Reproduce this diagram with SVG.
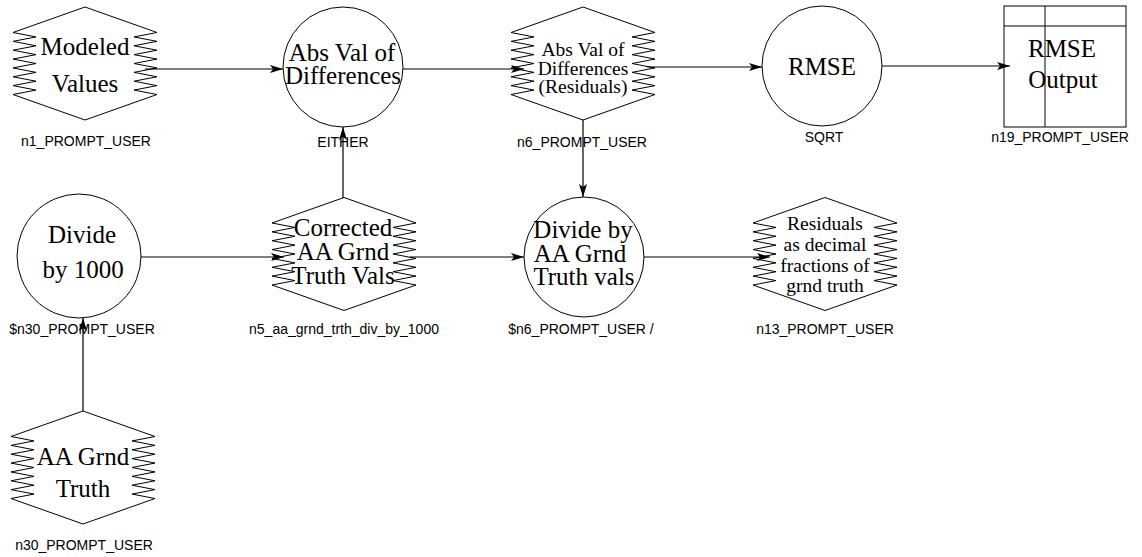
<svg xmlns="http://www.w3.org/2000/svg" xmlns:xlink="http://www.w3.org/1999/xlink" width="1142" height="557" viewBox="0 0 1142 557">
<style>
.shape{fill:#fff;stroke:#000;stroke-width:1}
.conn{fill:none;stroke:#000;stroke-width:1.2;marker-end:url(#arr)}
.t{font-family:"Liberation Serif","Times New Roman",serif;font-size:25px;text-anchor:middle;fill:#000}
.ts{font-family:"Liberation Serif","Times New Roman",serif;font-size:19.5px;text-anchor:middle;fill:#000}
.lbl{font-family:"Liberation Sans",Arial,sans-serif;font-size:14px;text-anchor:middle;fill:#000}
</style>
<defs>
<marker id="arr" markerUnits="userSpaceOnUse" markerWidth="14" markerHeight="8" refX="13" refY="4" orient="auto">
<path d="M0,0 L13,4 L0,8 L3,4 Z" fill="#000"/>
</marker>
<path id="zz" class="shape" d="M0,-56.5 L-72,-31 L-49,-26.57 L-72,-22.14 L-49,-17.71 L-72,-13.29 L-49,-8.86 L-72,-4.43 L-49,0 L-72,4.43 L-49,8.86 L-72,13.29 L-49,17.71 L-72,22.14 L-49,26.57 L-72,31 L0,56.5 L72,31 L49,26.57 L72,22.14 L49,17.71 L72,13.29 L49,8.86 L72,4.43 L49,0 L72,-4.43 L49,-8.86 L72,-13.29 L49,-17.71 L72,-22.14 L49,-26.57 L72,-31 Z"/>
</defs>
<rect width="1142" height="557" fill="#fff"/>

<g id="n1">
<use xlink:href="#zz" href="#zz" x="85" y="63.5"/>
<text class="t" x="85" y="55">Modeled</text>
<text class="t" x="85" y="92">Values</text>
<text class="lbl" x="86" y="146">n1_PROMPT_USER</text>
</g>

<g id="either">
<circle class="shape" cx="343" cy="67" r="60"/>
<text class="t" x="342" y="61">Abs Val of</text>
<text class="t" x="343" y="84">Differences</text>
<text class="lbl" x="343" y="147">EITHER</text>
</g>

<g id="n6">
<use xlink:href="#zz" href="#zz" x="583" y="63.5"/>
<text class="ts" x="583" y="56">Abs Val of</text>
<text class="ts" x="583" y="74.5">Differences</text>
<text class="ts" x="583" y="93">(Residuals)</text>
<text class="lbl" x="582" y="147">n6_PROMPT_USER</text>
</g>

<g id="sqrt">
<circle class="shape" cx="822" cy="66" r="60"/>
<text class="t" x="822" y="75">RMSE</text>
<text class="lbl" x="824" y="142">SQRT</text>
</g>

<g id="n19">
<rect class="shape" x="1004" y="6" width="122" height="121"/>
<line x1="1004" y1="26" x2="1126" y2="26" stroke="#000"/>
<text class="t" x="1062" y="57">RMSE</text>
<text class="t" x="1063" y="88">Output</text>
<line x1="1045" y1="6" x2="1045" y2="127" stroke="#000"/>
<text class="lbl" x="1060" y="142">n19_PROMPT_USER</text>
</g>

<g id="div1000">
<circle class="shape" cx="79" cy="256" r="62"/>
<text class="t" x="82" y="243">Divide</text>
<text class="t" x="83" y="278">by 1000</text>
<text class="lbl" x="82" y="334">$n30_PROMPT_USER</text>
</g>

<g id="n5">
<use xlink:href="#zz" href="#zz" x="344" y="254"/>
<text class="t" x="343" y="236">Corrected</text>
<text class="t" x="343" y="260">AA Grnd</text>
<text class="t" x="343" y="284">Truth Vals</text>
<text class="lbl" x="344" y="334">n5_aa_grnd_trth_div_by_1000</text>
</g>

<g id="divaa">
<circle class="shape" cx="584" cy="257" r="60"/>
<text class="t" x="583" y="238">Divide by</text>
<text class="t" x="580" y="262">AA Grnd</text>
<text class="t" x="584" y="285">Truth vals</text>
<text class="lbl" x="581" y="334">$n6_PROMPT_USER /</text>
</g>

<g id="n13">
<use xlink:href="#zz" href="#zz" x="825" y="254"/>
<text class="ts" x="825" y="230">Residuals</text>
<text class="ts" x="825" y="251">as decimal</text>
<text class="ts" x="825" y="272">fractions of</text>
<text class="ts" x="825" y="292">grnd truth</text>
<text class="lbl" x="825" y="334">n13_PROMPT_USER</text>
</g>

<g id="n30">
<use xlink:href="#zz" href="#zz" x="83" y="467.5"/>
<text class="t" x="83" y="465">AA Grnd</text>
<text class="t" x="83" y="497">Truth</text>
<text class="lbl" x="84" y="550">n30_PROMPT_USER</text>
</g>

<g id="connectors">
<path class="conn" d="M145,69 H283"/>
<path class="conn" d="M403,69 H524"/>
<path class="conn" d="M647,67 H762"/>
<path class="conn" d="M882,66 H1010"/>
<path class="conn" d="M583,120 V197"/>
<path class="conn" d="M343,198 V127"/>
<path class="conn" d="M141,257 H284"/>
<path class="conn" d="M410,257 H524"/>
<path class="conn" d="M644,257 H770"/>
<path class="conn" d="M83,411 V318"/>
</g>
</svg>
